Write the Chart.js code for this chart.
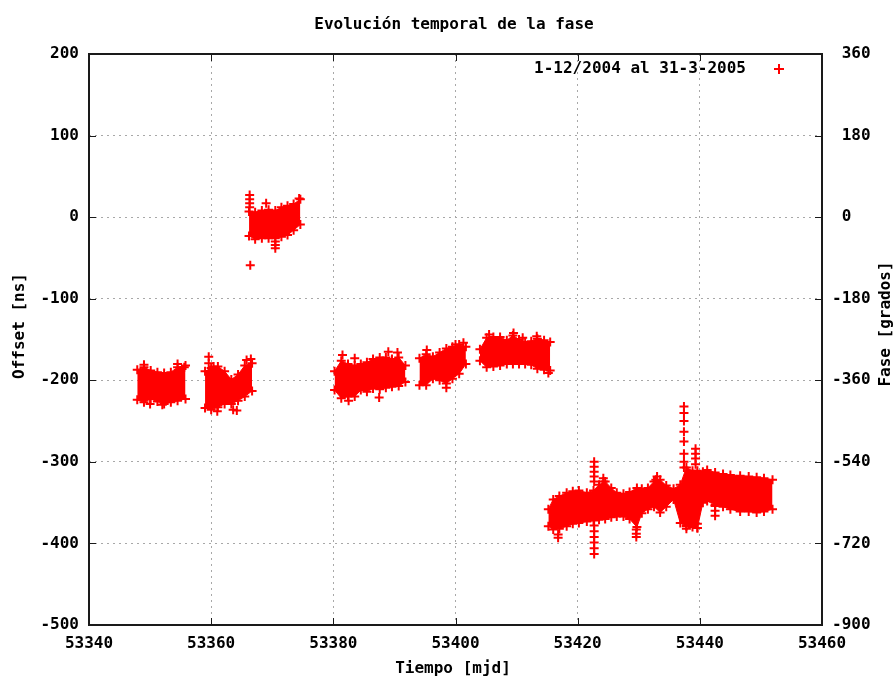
<!DOCTYPE html>
<html><head><meta charset="utf-8">
<script src="https://cdn.jsdelivr.net/npm/chart.js@4/dist/chart.umd.min.js"></script>
<style>html,body{margin:0;padding:0;background:#fff}</style>
</head><body>
<canvas id="c" width="895" height="678"></canvas>
<script>
const chartTitle = "Evolución temporal de la fase";
const xTitle = "Tiempo [mjd]";
const yTitle = "Offset [ns]";
const y2Title = "Fase [grados]";
const seriesLabel = "1-12/2004 al 31-3-2005";
const xRange = [53340, 53460, 20];
const yRange = [-500, 200, 100];
const y2Range = [-900, 360, 180];

// envelopes of the dense point clusters (MJD, upper offset, lower offset in ns)
const c1x   = [53347.9, 53349.0, 53350.1, 53351.2, 53352.3, 53353.4, 53354.5, 53355.8];
const c1top = [-187, -184, -188, -190, -191, -190, -184, -182];
const c1bot = [-224, -227, -223, -226, -229, -227, -225, -223];

const c2x   = [53359.0, 53360.0, 53361.1, 53362.2, 53363.3, 53364.4, 53365.5, 53366.7];
const c2top = [-189, -185, -183, -189, -199, -193, -182, -179];
const c2bot = [-234, -236, -233, -229, -229, -225, -220, -213];

const c3x   = [53366.2, 53367.2, 53368.3, 53369.4, 53370.5, 53371.5, 53372.5, 53373.5, 53374.6];
const c3top = [7, 6, 8, 9, 8, 12, 14, 16, 22];
const c3bot = [-23, -27, -26, -26, -26, -24, -22, -16, -9];

const c4x   = [53380.2, 53381.3, 53382.4, 53383.5, 53384.5, 53385.5, 53386.5, 53387.6, 53388.6, 53389.6, 53390.7, 53391.8];
const c4top = [-189, -176, -180, -182, -180, -178, -174, -172, -172, -174, -172, -182];
const c4bot = [-212, -222, -220, -220, -212, -214, -210, -211, -209, -208, -207, -202];

const c5x   = [53394.1, 53395.2, 53396.3, 53397.4, 53398.5, 53399.5, 53400.6, 53401.7];
const c5top = [-173, -168, -171, -166, -161, -159, -156, -159];
const c5bot = [-206, -206, -198, -200, -204, -198, -192, -180];

const c6x   = [53404.0, 53405.1, 53406.2, 53407.3, 53408.4, 53409.4, 53410.4, 53411.4, 53412.4, 53413.4, 53414.5, 53415.5];
const c6top = [-162, -148, -147, -147, -151, -145, -150, -153, -152, -149, -151, -153];
const c6bot = [-176, -184, -183, -182, -180, -180, -180, -180, -181, -186, -187, -188];

const c7x   = [53415.2, 53416.0, 53417.0, 53418.2, 53419.2, 53420.2, 53421.5, 53422.6, 53423.5, 53424.5,
               53425.5, 53426.4, 53427.5, 53428.5, 53429.7, 53430.5, 53431.5, 53432.5, 53433.5, 53434.5,
               53435.7, 53436.8, 53437.8, 53438.8, 53439.6, 53440.5, 53441.2, 53442.5, 53443.8, 53445.0,
               53446.6, 53448.0, 53449.3, 53450.5, 53451.9];
const c7top = [-358, -346, -342, -338, -336, -335, -338, -335, -328, -324,
               -332, -338, -339, -337, -332, -333, -332, -324, -322, -329,
               -333, -328, -307, -311, -311, -312, -310, -313, -315, -316,
               -317, -318, -319, -320, -322];
const c7bot = [-379, -383, -382, -379, -376, -375, -373, -372, -371, -370,
               -368, -367, -367, -370, -380, -363, -358, -355, -362, -355,
               -346, -375, -379, -380, -381, -350, -348, -353, -355, -358,
               -361, -361, -362, -361, -358];

// isolated points outside the envelopes
const outX = [53349.0, 53354.5, 53352.0, 53350.0, 53355.6,
              53359.6, 53359.6, 53360.4, 53365.8, 53366.5, 53363.6, 53364.2, 53361.0,
              53366.3, 53366.3, 53366.3, 53366.3, 53370.5, 53370.5, 53370.5, 53366.4, 53369.0, 53374.4,
              53381.5, 53383.5, 53387.5, 53389.0, 53390.5, 53382.5,
              53395.3, 53398.5, 53401.3, 53400.0,
              53405.5, 53409.5, 53413.3, 53415.2, 53411.0,
              53422.7, 53422.7, 53422.7, 53422.7, 53422.7, 53422.7, 53422.7, 53422.7, 53422.7, 53422.7, 53422.7,
              53424.2, 53424.2, 53416.8, 53416.8, 53429.6, 53429.6, 53429.6, 53433.0, 53432.8,
              53437.4, 53437.4, 53437.4, 53437.4, 53437.4, 53437.4, 53437.4, 53437.4,
              53439.3, 53439.3, 53439.3, 53439.3, 53437.8, 53437.8, 53437.8, 53437.8,
              53439.6, 53439.6, 53442.5, 53442.5, 53442.5];
const outY = [-181, -180, -230, -229, -184,
              -171, -179, -183, -175, -174, -236, -237, -238,
              27, 22, 17, 12, -30, -34, -38, -59, 17, 23,
              -169, -173, -221, -165, -166, -225,
              -163, -209, -154, -156,
              -144, -142, -146, -191, -148,
              -300, -306, -312, -318, -324, -378, -385, -392, -399, -406, -413,
              -320, -324, -389, -393, -383, -388, -392, -318, -322,
              -232, -240, -250, -263, -275, -290, -300, -307,
              -284, -290, -296, -303, -362, -370, -378, -382,
              -376, -381, -354, -360, -366];

const RED = '#ff0000';
const FONT = {family: "'DejaVu Sans Mono', monospace", size: 16, weight: 'bold'};
Chart.defaults.font = FONT;
Chart.defaults.color = '#000';

const pts = (xs, ys) => xs.map((x, i) => ({x: x, y: ys[i]}));
const markerStyle = {pointStyle: 'cross', pointRadius: 4.5, pointHoverRadius: 4.5,
  pointBorderWidth: 2, pointBorderColor: RED, pointBackgroundColor: RED};

const datasets = [Object.assign({
  label: seriesLabel, data: pts(outX, outY), showLine: false,
  borderColor: RED, backgroundColor: RED
}, markerStyle)];

[[c1x, c1top, c1bot], [c2x, c2top, c2bot], [c3x, c3top, c3bot], [c4x, c4top, c4bot],
 [c5x, c5top, c5bot], [c6x, c6top, c6bot], [c7x, c7top, c7bot]].forEach(([xs, tp, bt]) => {
  datasets.push(Object.assign({label: '', data: pts(xs, tp), showLine: true, tension: 0,
    borderColor: RED, borderWidth: 1, backgroundColor: RED, fill: '+1'}, markerStyle));
  datasets.push(Object.assign({label: '', data: pts(xs, bt), showLine: true, tension: 0,
    borderColor: RED, borderWidth: 1, backgroundColor: RED, fill: false}, markerStyle));
});

const PL = 89, PR = 822, PT = 54, PB = 625;

const decor = {
  id: 'decor',
  afterDraw(chart) {
    const ctx = chart.ctx;
    const a = chart.chartArea;
    const sx = chart.scales.x, sy = chart.scales.y;
    ctx.save();
    // frame
    ctx.strokeStyle = '#1a1a1a';
    ctx.lineWidth = 2;
    ctx.strokeRect(a.left, a.top, a.right - a.left, a.bottom - a.top);
    // inward tick marks
    ctx.lineWidth = 1;
    const tl = 7;
    for (let v = xRange[0]; v <= xRange[1]; v += xRange[2]) {
      const px = Math.round(sx.getPixelForValue(v)) + 0.5;
      ctx.beginPath();
      ctx.moveTo(px, a.bottom); ctx.lineTo(px, a.bottom - tl);
      ctx.moveTo(px, a.top); ctx.lineTo(px, a.top + tl);
      ctx.stroke();
    }
    for (let v = yRange[0]; v <= yRange[1]; v += yRange[2]) {
      const py = Math.round(sy.getPixelForValue(v)) + 0.5;
      ctx.beginPath();
      ctx.moveTo(a.left, py); ctx.lineTo(a.left + tl, py);
      ctx.moveTo(a.right, py); ctx.lineTo(a.right - tl, py);
      ctx.stroke();
    }
    // titles
    ctx.fillStyle = '#000';
    ctx.font = "bold 16px 'DejaVu Sans Mono', monospace";
    ctx.textAlign = 'center';
    ctx.textBaseline = 'middle';
    ctx.fillText(chartTitle, 454, 25);
    ctx.fillText(xTitle, 453, 669);
    ctx.save();
    ctx.translate(20, 326);
    ctx.rotate(-Math.PI / 2);
    ctx.fillText(yTitle, 0, 0);
    ctx.restore();
    ctx.save();
    ctx.translate(886, 324);
    ctx.rotate(-Math.PI / 2);
    ctx.fillText(y2Title, 0, 0);
    ctx.restore();
    // key (legend) inside the plot, top right
    ctx.textAlign = 'right';
    ctx.fillText(seriesLabel, 746, 69);
    ctx.strokeStyle = RED;
    ctx.lineWidth = 2;
    ctx.beginPath();
    ctx.moveTo(774, 69); ctx.lineTo(784, 69);
    ctx.moveTo(779, 64); ctx.lineTo(779, 74);
    ctx.stroke();
    ctx.restore();
  }
};

const fmtL = v => String(v);
const fmtR = v => (v >= 0 ? ' ' + v : String(v));
const gridCommon = {color: '#a8a8a8', lineWidth: 1, drawTicks: false};

new Chart(document.getElementById('c'), {
  type: 'scatter',
  data: {datasets: datasets},
  options: {
    responsive: false,
    animation: false,
    events: [],
    layout: {padding: {top: PT, left: 0, right: 0, bottom: 0}},
    plugins: {
      title: {display: false},
      tooltip: {enabled: false},
      legend: {display: false}
    },
    scales: {
      x: {
        type: 'linear', position: 'bottom',
        min: xRange[0], max: xRange[1],
        ticks: {stepSize: xRange[2], padding: 9, callback: fmtL, maxRotation: 0, autoSkip: false},
        grid: gridCommon,
        border: {display: false, dash: [2, 4]},
        afterFit: s => { s.height = 678 - PB; }
      },
      y: {
        type: 'linear', position: 'left',
        min: yRange[0], max: yRange[1],
        ticks: {stepSize: yRange[2], padding: 10, callback: fmtL, autoSkip: false},
        grid: gridCommon,
        border: {display: false, dash: [2, 4]},
        afterFit: s => { s.width = PL; }
      },
      y2: {
        type: 'linear', position: 'right',
        min: y2Range[0], max: y2Range[1],
        ticks: {stepSize: y2Range[2], padding: 10, callback: fmtR, autoSkip: false},
        grid: {display: false, drawTicks: false},
        border: {display: false},
        afterFit: s => { s.width = 895 - PR; }
      }
    }
  },
  plugins: [decor]
});
</script>
</body></html>
